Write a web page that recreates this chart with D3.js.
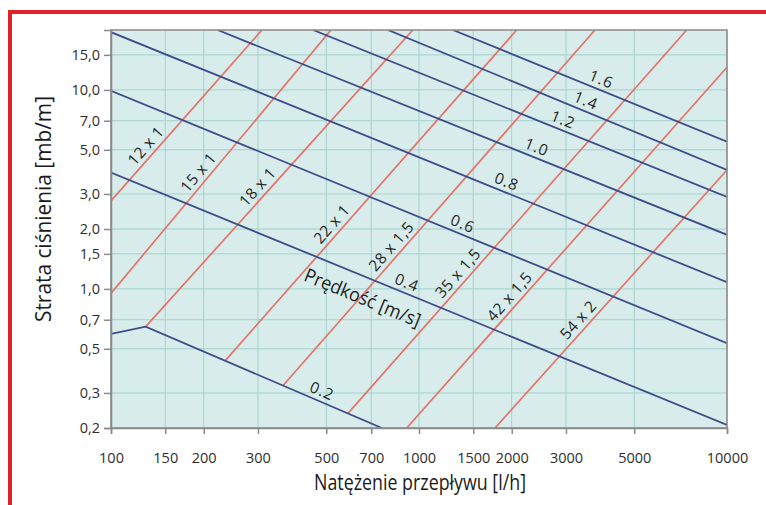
<!DOCTYPE html>
<html lang="pl">
<head>
<meta charset="UTF-8">
<title>Strata ciśnienia</title>
<script src="https://d3js.org/d3.v7.min.js"></script>
<style>
  body { margin: 0; background: #fff; }
  svg { display: block; }
</style>
</head>
<body>
<svg></svg>
<script>
// values (flow l/h, pressure loss mb/m)
const xTicks = [100, 150, 200, 300, 500, 700, 1000, 1500, 2000, 3000, 5000, 10000];
const yTicks = [0.2, 0.3, 0.5, 0.7, 1.0, 1.5, 2.0, 3.0, 5.0, 7.0, 10.0, 15.0];

// velocity lines [m/s]
const velocities = ["0.2", "0.4", "0.6", "0.8", "1.0", "1.2", "1.4", "1.6"];
const velocityQ = [[100, 129.6, 758], [100, 10000], [100, 10000], [100, 10000], [222, 10000], [453, 10000], [793, 10000], [1289, 10000]];
const velocityR = [[0.594, 0.646, 0.2], [3.84, 0.207], [9.9, 0.533], [19.5, 1.08], [20, 1.87], [20, 2.90], [20, 3.96], [20, 5.49]];
const velocityLabelQ = [470, 887, 1347, 1870, 2343, 2853, 3383, 3795];

// pipe lines
const pipes = ["12 x 1", "15 x 1", "18 x 1", "22 x 1", "28 x 1,5", "35 x 1,5", "42 x 1,5", "54 x 2"];
const pipeQ = [[100, 309], [100, 518], [129.6, 955], [234.6, 2076], [362, 3727], [588, 7398], [912, 10000], [1765, 10000]];
const pipeR = [[2.77, 20], [0.95, 20], [0.646, 20], [0.435, 20], [0.327, 20], [0.237, 20], [0.2, 13.0], [0.2, 3.96]];
const pipeLabelQ = [137.5, 204, 317, 552, 862, 1419, 2085, 3484];

const speedTitle = "Prędkość [m/s]";
const speedTitleQ = 695; // sits under the 0.4 line

const width = 766, height = 505;
const margin = {top: 30, right: 39, bottom: 77, left: 111};

const svg = d3.select("svg")
  .attr("width", width)
  .attr("height", height)
  .attr("viewBox", [0, 0, width, height]);

const x = d3.scaleLog().domain([100, 10000]).range([margin.left, width - margin.right]);
const y = d3.scaleLog().domain([0.2, 20]).range([height - margin.bottom, margin.top]);

const fmt = d => d3.format(".1f")(d).replace(".", ",");
const font = "'Open Sans', 'DejaVu Sans', sans-serif";

// red frame (runs off the right/bottom of the picture)
svg.append("rect")
  .attr("x", 10).attr("y", 12)
  .attr("width", 820).attr("height", 600)
  .attr("fill", "none")
  .attr("stroke", "#e0212b")
  .attr("stroke-width", 4);

svg.append("defs").append("clipPath").attr("id", "plot")
  .append("rect")
  .attr("x", x.range()[0]).attr("y", y.range()[1])
  .attr("width", x.range()[1] - x.range()[0])
  .attr("height", y.range()[0] - y.range()[1]);

// background
svg.append("rect")
  .attr("x", x.range()[0]).attr("y", y.range()[1])
  .attr("width", x.range()[1] - x.range()[0])
  .attr("height", y.range()[0] - y.range()[1])
  .attr("fill", "#d8edeb");

// grid
const grid = svg.append("g").attr("stroke", "#a2d1cc").attr("stroke-width", 1);
grid.selectAll(".vx").data(xTicks).join("line")
  .attr("x1", d => x(d)).attr("x2", d => x(d))
  .attr("y1", y.range()[1]).attr("y2", y.range()[0]);
grid.selectAll(".hy").data(yTicks).join("line")
  .attr("y1", d => y(d)).attr("y2", d => y(d))
  .attr("x1", x.range()[0]).attr("x2", x.range()[1]);

const line = d3.line().x(d => x(d[0])).y(d => y(d[1]));
const plot = svg.append("g").attr("clip-path", "url(#plot)");

const velData = velocities.map((v, i) => velocityQ[i].map((q, j) => [q, velocityR[i][j]]));
const pipeData = pipes.map((p, i) => pipeQ[i].map((q, j) => [q, pipeR[i][j]]));

plot.selectAll(".pipe").data(pipeData).join("path")
  .attr("d", line)
  .attr("fill", "none")
  .attr("stroke", "#e4736a")
  .attr("stroke-width", 1.7);

plot.selectAll(".vel").data(velData).join("path")
  .attr("d", line)
  .attr("fill", "none")
  .attr("stroke", "#3e4c8a")
  .attr("stroke-width", 1.8);

// point + angle on a polyline at flow q
function pointAt(pts, q) {
  let i = 0;
  while (i < pts.length - 2 && q > pts[i + 1][0]) i++;
  const a = pts[i], b = pts[i + 1];
  const t = (Math.log(q) - Math.log(a[0])) / (Math.log(b[0]) - Math.log(a[0]));
  const r = Math.exp(Math.log(a[1]) + t * (Math.log(b[1]) - Math.log(a[1])));
  const ang = Math.atan2(y(b[1]) - y(a[1]), x(b[0]) - x(a[0])) * 180 / Math.PI;
  return [x(q), y(r), ang];
}

const labels = svg.append("g")
  .attr("font-family", font)
  .attr("font-size", 15.5)
  .attr("fill", "#262626")
  .attr("text-anchor", "middle");

labels.selectAll(".pl").data(pipes).join("text")
  .attr("transform", (d, i) => {
    const p = pointAt(pipeData[i], pipeLabelQ[i]);
    return `translate(${p[0]},${p[1]}) rotate(${p[2]})`;
  })
  .attr("dy", -5)
  .attr("letter-spacing", 0.5)
  .text(d => d);

labels.selectAll(".vl").data(velocities).join("text")
  .attr("transform", (d, i) => {
    const p = pointAt(velData[i], velocityLabelQ[i]);
    return `translate(${p[0]},${p[1]}) rotate(${p[2]})`;
  })
  .attr("dy", -5)
  .attr("letter-spacing", 1)
  .text(d => d);

const sp = pointAt(velData[1], speedTitleQ);
labels.append("text")
  .attr("transform", `translate(${sp[0]},${sp[1]}) rotate(${sp[2]})`)
  .attr("dy", 27)
  .attr("font-size", 19)
  .attr("textLength", 124)
  .attr("lengthAdjust", "spacingAndGlyphs")
  .attr("fill", "#1e1e1e")
  .text(speedTitle);

// plot frame
svg.append("rect")
  .attr("x", x.range()[0]).attr("y", y.range()[1])
  .attr("width", x.range()[1] - x.range()[0])
  .attr("height", y.range()[0] - y.range()[1])
  .attr("fill", "none")
  .attr("stroke", "#8a8a8a")
  .attr("stroke-width", 1.5);

// axes
const xAxis = d3.axisBottom(x).tickValues(xTicks).tickFormat(d3.format("d")).tickSize(6).tickPadding(19);
const yAxis = d3.axisLeft(y).tickValues(yTicks).tickFormat(fmt).tickSize(7).tickPadding(4);

const gx = svg.append("g")
  .attr("transform", `translate(0,${y.range()[0]})`)
  .call(xAxis);
const gy = svg.append("g")
  .attr("transform", `translate(${x.range()[0]},0)`)
  .call(yAxis);

[gx, gy].forEach(g => {
  g.select(".domain").attr("stroke", "#8a8a8a").attr("stroke-width", 1.5);
  g.selectAll(".tick line").attr("stroke", "#8a8a8a").attr("stroke-width", 1.5);
  g.selectAll(".tick text")
    .attr("font-family", font)
    .attr("font-size", 14.5)
    .attr("fill", "#2e2e2e");
});

// axis titles
svg.append("text")
  .attr("x", (x.range()[0] + x.range()[1]) / 2 + 1)
  .attr("y", 490)
  .attr("text-anchor", "middle")
  .attr("font-family", font)
  .attr("font-size", 21)
  .attr("textLength", 212)
  .attr("lengthAdjust", "spacingAndGlyphs")
  .attr("fill", "#1a1a1a")
  .text("Natężenie przepływu [l/h]");

svg.append("text")
  .attr("transform", `translate(51,${(y.range()[0] + y.range()[1]) / 2 - 20}) rotate(-90)`)
  .attr("text-anchor", "middle")
  .attr("font-family", font)
  .attr("font-size", 21)
  .attr("textLength", 226)
  .attr("lengthAdjust", "spacingAndGlyphs")
  .attr("fill", "#1a1a1a")
  .text("Strata ciśnienia [mb/m]");
</script>
</body>
</html>
